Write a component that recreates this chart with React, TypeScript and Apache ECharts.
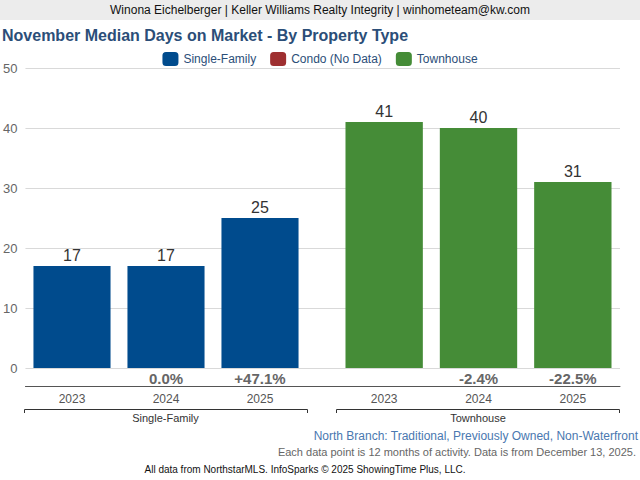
import React, { useEffect, useRef } from "react";
import * as echarts from "echarts";

const years = ["2023", "2024", "2025"];
const singleFamily = [17, 17, 25];
const condo: number[] = [];
const townhouse = [41, 40, 31];
const groupNames = ["Single-Family", "Townhouse"];
const seriesNames = ["Single-Family", "Condo (No Data)", "Townhouse"];
const yMin = 0;
const yMax = 50;
const yInterval = 10;

const headerText = "Winona Eichelberger | Keller Williams Realty Integrity | winhometeam@kw.com";
const titleText = "November Median Days on Market - By Property Type";
const subtitleText = "North Branch: Traditional, Previously Owned, Non-Waterfront";
const noteText = "Each data point is 12 months of activity. Data is from December 13, 2025.";
const sourceText = "All data from NorthstarMLS. InfoSparks © 2025 ShowingTime Plus, LLC.";

const FONT = "'Liberation Sans', Arial, Helvetica, sans-serif";

function pctChanges(arr: number[]): string[] {
  return arr.map((v, i) => {
    if (i === 0) return " ";
    const p = ((v - arr[i - 1]) / arr[i - 1]) * 100;
    const s = p.toFixed(1);
    return (p > 0 ? "+" : "") + (s === "-0.0" ? "0.0" : s) + "%";
  });
}

const sfPct = pctChanges(singleFamily);
const thPct = pctChanges(townhouse);

function yearAxis(gridIndex: number, pcts: string[]) {
  return {
    gridIndex,
    type: "category",
    data: years,
    position: "bottom",
    axisLine: { show: false },
    axisTick: { show: false },
    splitLine: { show: false },
    axisLabel: {
      margin: 0,
      interval: 0,
      formatter: (val: string, idx: number) => `{p|${pcts[idx]}}\n{y|${val}}`,
      rich: {
        p: { fontSize: 15, fontWeight: "bold", color: "#666", lineHeight: 20, height: 20, fontFamily: FONT },
        y: { fontSize: 12, color: "#555", lineHeight: 22, height: 22, fontFamily: FONT },
      },
    },
  };
}

function hiddenY(gridIndex: number) {
  return { gridIndex, type: "value", min: yMin, max: yMax, interval: yInterval, show: false };
}

export default function App() {
  const ref = useRef<HTMLDivElement>(null);
  useEffect(() => {
    if (!ref.current) return;
    const chart = echarts.init(ref.current, undefined, { renderer: "svg" });
    const barLabel = {
      show: true,
      position: "top",
      distance: 3,
      fontSize: 16,
      color: "#333",
      fontFamily: FONT,
    };
    const option: any = {
      animation: false,
      backgroundColor: "#ffffff",
      textStyle: { fontFamily: FONT },
      legend: {
        data: seriesNames,
        top: 47,
        left: "center",
        icon: "roundRect",
        itemWidth: 16,
        itemHeight: 14,
        itemGap: 14,
        textStyle: { color: "#2b4e78", fontSize: 12, fontFamily: FONT },
      },
      grid: [
        { left: 24, right: 20, top: 68, bottom: 112 },
        { left: 25, width: 282, top: 68, bottom: 112 },
        { left: 337, width: 283, top: 68, bottom: 112 },
      ],
      xAxis: [
        {
          gridIndex: 0,
          type: "value",
          min: 0,
          max: 1,
          offset: 18,
          axisLine: { show: true, onZero: false, lineStyle: { color: "#555", width: 1 } },
          axisTick: { show: false },
          axisLabel: { show: false },
          splitLine: { show: false },
        },
        yearAxis(1, sfPct),
        yearAxis(2, thPct),
      ],
      yAxis: [
        {
          gridIndex: 0,
          type: "value",
          min: yMin,
          max: yMax,
          interval: yInterval,
          axisLine: { show: false },
          axisTick: { show: false },
          axisLabel: { color: "#666", fontSize: 13, margin: 8, fontFamily: FONT },
          splitLine: { lineStyle: { color: "#d9d9d9", width: 1 } },
        },
        hiddenY(1),
        hiddenY(2),
      ],
      series: [
        {
          name: seriesNames[0],
          type: "bar",
          xAxisIndex: 1,
          yAxisIndex: 1,
          stack: "sf",
          data: singleFamily,
          barCategoryGap: "18%",
          itemStyle: { color: "#004b8d" },
          label: barLabel,
        },
        {
          name: seriesNames[1],
          type: "bar",
          xAxisIndex: 1,
          yAxisIndex: 1,
          stack: "sf",
          data: condo,
          barCategoryGap: "18%",
          itemStyle: { color: "#9e2f30" },
        },
        {
          name: seriesNames[2],
          type: "bar",
          xAxisIndex: 2,
          yAxisIndex: 2,
          data: townhouse,
          barCategoryGap: "18%",
          itemStyle: { color: "#458c37" },
          label: barLabel,
        },
      ],
      graphic: [
        { type: "rect", shape: { x: 0, y: 0, width: 640, height: 20 }, style: { fill: "#ececec" }, silent: true },
        {
          type: "text",
          x: 320,
          y: 10,
          style: { text: headerText, fontSize: 12, fill: "#111", align: "center", verticalAlign: "middle", fontFamily: FONT },
        },
        {
          type: "text",
          x: 2,
          y: 35,
          style: { text: titleText, fontSize: 16, fontWeight: "bold", fill: "#2b4e78", align: "left", verticalAlign: "middle", fontFamily: FONT },
        },
        {
          type: "polyline",
          shape: { points: [[24.5, 413], [24.5, 409.5], [307.5, 409.5], [307.5, 413]] },
          style: { stroke: "#333", lineWidth: 1, fill: null },
        },
        {
          type: "polyline",
          shape: { points: [[336.5, 413], [336.5, 409.5], [619.5, 409.5], [619.5, 413]] },
          style: { stroke: "#333", lineWidth: 1, fill: null },
        },
        {
          type: "text",
          x: 165.5,
          y: 418,
          style: { text: groupNames[0], fontSize: 11, fill: "#333", align: "center", verticalAlign: "middle", fontFamily: FONT },
        },
        {
          type: "text",
          x: 478,
          y: 418,
          style: { text: groupNames[1], fontSize: 11, fill: "#333", align: "center", verticalAlign: "middle", fontFamily: FONT },
        },
        {
          type: "text",
          x: 638,
          y: 436,
          style: { text: subtitleText, fontSize: 12, fill: "#4a78b0", align: "right", verticalAlign: "middle", fontFamily: FONT },
        },
        {
          type: "text",
          x: 636,
          y: 452,
          style: { text: noteText, fontSize: 11, fill: "#666", align: "right", verticalAlign: "middle", fontFamily: FONT },
        },
        {
          type: "text",
          x: 305,
          y: 469,
          style: { text: sourceText, fontSize: 10, fill: "#111", align: "center", verticalAlign: "middle", fontFamily: FONT },
        },
      ],
    };
    chart.setOption(option);
    return () => chart.dispose();
  }, []);
  return (
    <div
      ref={ref}
      style={{ position: "fixed", left: 0, top: 0, width: 640, height: 480, background: "#fff" }}
    />
  );
}
